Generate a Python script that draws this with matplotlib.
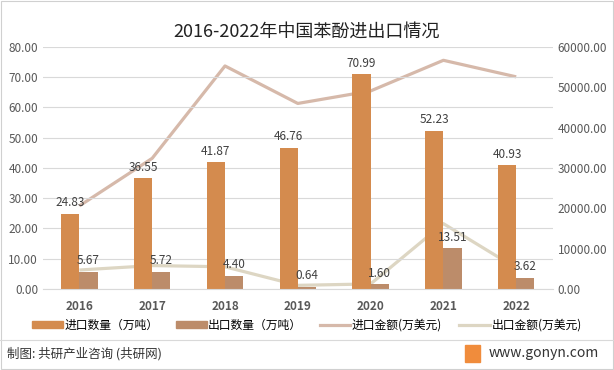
import numpy as np
import matplotlib
matplotlib.use('Agg')
import matplotlib.pyplot as plt
from matplotlib.patches import Rectangle
from matplotlib.lines import Line2D

plt.rcParams['font.family'] = ['Noto Sans CJK SC', 'DejaVu Sans']

# data
years = ['2016', '2017', '2018', '2019', '2020', '2021', '2022']
import_qty = [24.83, 36.55, 41.87, 46.76, 70.99, 52.23, 40.93]   # 万吨
export_qty = [5.67, 5.72, 4.40, 0.64, 1.60, 13.51, 3.62]         # 万吨
import_amt = [20600, 32400, 55300, 46000, 49100, 56700, 52600]   # 万美元
export_amt = [4700, 5800, 5500, 900, 1250, 16200, 5200]          # 万美元

c_imp = '#D48B4E'
c_exp = '#BC8C6A'
c_imp_line = '#D6B9AA'
c_exp_line = '#DDD6C3'

fig = plt.figure(figsize=(6.14, 3.70), dpi=100)
ax = fig.add_axes([0.07, 0.219, 0.83, 0.654])
ax2 = ax.twinx()

x = np.arange(len(years))
w = 0.25
ax.bar(x - w / 2, import_qty, w, color=c_imp, zorder=2)
ax.bar(x + w / 2, export_qty, w, color=c_exp, zorder=2)

for xi, v in zip(x, import_qty):
    ax.text(xi - w / 2, v + 1.5, f'{v:.2f}', ha='center', va='bottom',
            fontsize=8.5, color='#404040', zorder=5)
for xi, v in zip(x, export_qty):
    ax.text(xi + w / 2, v + 1.5, f'{v:.2f}', ha='center', va='bottom',
            fontsize=8.5, color='#404040', zorder=5)

ax2.plot(x, import_amt, color=c_imp_line, lw=2.3, solid_capstyle='butt')
ax2.plot(x, export_amt, color=c_exp_line, lw=2.3, solid_capstyle='butt')

ax.set_xlim(-0.5, len(years) - 0.5)
ax.set_ylim(0, 80)
ax2.set_ylim(0, 60000)
ax.set_yticks(np.arange(0, 81, 10))
ax.set_yticklabels([f'{v:.2f}' for v in np.arange(0, 81, 10)])
ax2.set_yticks(np.arange(0, 60001, 10000))
ax2.set_yticklabels([f'{v:.2f}' for v in np.arange(0, 60001, 10000)])
ax.set_xticks(x)
ax.set_xticklabels(years, fontweight='bold', fontsize=8.5, color='#222222')

ax.yaxis.grid(True, color='#D9D9D9', lw=0.8, zorder=0)
ax.set_axisbelow(True)
for a in (ax, ax2):
    for s in a.spines.values():
        s.set_visible(False)
    a.tick_params(length=0, labelsize=8.5, labelcolor='#595959')
ax.tick_params(axis='x', pad=8)
ax.spines['bottom'].set_visible(True)
ax.spines['bottom'].set_color('#D9D9D9')
ax.set_zorder(ax2.get_zorder() + 1)
ax.patch.set_visible(False)

fig.text(0.5, 0.915, '2016-2022年中国苯酚进出口情况', ha='center', va='center',
         fontsize=13, color='#222222')

handles = [Rectangle((0, 0), 1, 1, color=c_imp), Rectangle((0, 0), 1, 1, color=c_exp),
           Line2D([], [], color=c_imp_line, lw=2.3), Line2D([], [], color=c_exp_line, lw=2.3)]
labels = ['进口数量（万吨）', '出口数量（万吨）', '进口金额(万美元)', '出口金额(万美元)']
fig.legend(handles, labels, loc='center', bbox_to_anchor=(0.5, 0.121), ncol=4,
           frameon=False, fontsize=8.5, handlelength=2.6, handleheight=0.6,
           columnspacing=1.5, handletextpad=0.1)

# footer
fig.add_artist(Line2D([0.0, 1.0], [0.082, 0.082], color='#D9D9D9', lw=0.8))
fig.text(0.012, 0.045, '制图: 共研产业咨询 (共研网)', ha='left', va='center',
         fontsize=9, color='#333333')
fig.text(0.975, 0.045, 'www.gonyn.com', ha='right', va='center',
         fontsize=10, color='#333333')
fig.add_artist(Rectangle((0.757, 0.022), 0.025, 0.046, color='#F08C3C'))
fig.add_artist(Rectangle((0.002, 0.003), 0.996, 0.994, fill=False,
                         ec='#D0D0D0', lw=0.8))

fig.savefig('out.png', dpi=100)
